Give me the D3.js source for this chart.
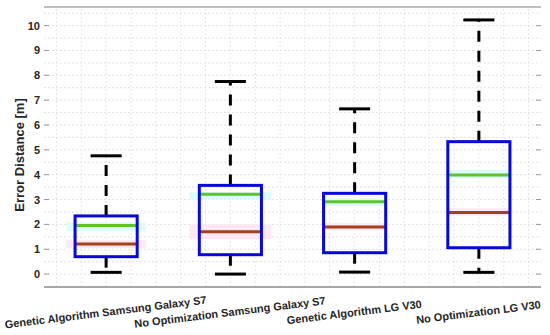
<!DOCTYPE html>
<html>
<head>
<meta charset="utf-8">
<script src="https://cdn.jsdelivr.net/npm/d3@7"></script>
<style>
  body { margin: 0; background: #fff; }
  text { font-family: "Liberation Sans", Arial, sans-serif; font-weight: bold; }
</style>
</head>
<body>
<script>
// data
var categories = ["Genetic Algorithm Samsung Galaxy S7", "No Optimization Samsung Galaxy S7",
                  "Genetic Algorithm LG V30", "No Optimization LG V30"];
var whiskerLow  = [0.07, 0.00, 0.08, 0.07];
var q1          = [0.70, 0.78, 0.86, 1.06];
var medians     = [1.21, 1.70, 1.90, 2.48];
var means       = [1.96, 3.21, 2.91, 3.99];
var q3          = [2.34, 3.57, 3.25, 5.33];
var whiskerHigh = [4.76, 7.75, 6.65, 10.23];
// shaded bands around mean and median lines
var meanBandLo  = [1.72, 3.00, 2.75, 3.85];
var meanBandHi  = [2.08, 3.30, 3.05, 4.20];
var medBandLo   = [1.05, 1.40, 1.75, 2.35];
var medBandHi   = [1.36, 2.00, 2.05, 2.65];
var yTicks = [0, 1, 2, 3, 4, 5, 6, 7, 8, 9, 10];

var width = 550, height = 335;
var svg = d3.select("body").append("svg")
  .attr("width", width)
  .attr("height", height);

var x = d3.scaleLinear().domain([0.5, 4.5]).range([44, 541]);
var y = d3.scaleLinear().domain([-0.52, 10.75]).range([287, 7]);

// grid
var grid = svg.append("g");
grid.selectAll("line.h")
  .data(d3.range(-0.5, 10.75, 0.5))
  .enter().append("line")
    .attr("x1", x(0.5)).attr("x2", x(4.5))
    .attr("y1", function(d) { return y(d); }).attr("y2", function(d) { return y(d); })
    .attr("stroke", "#e0e0e0").attr("stroke-width", 1)
    .attr("stroke-dasharray", "2,2");
grid.selectAll("line.v")
  .data(d3.range(0.6, 4.45, 0.2))
  .enter().append("line")
    .attr("y1", y(-0.52)).attr("y2", y(10.75))
    .attr("x1", function(d) { return x(d); }).attr("x2", function(d) { return x(d); })
    .attr("stroke", "#e6e6e6").attr("stroke-width", 1)
    .attr("stroke-dasharray", "2,2");

// frame
svg.append("line").attr("x1", x(0.5)).attr("x2", x(4.5)).attr("y1", y(10.75)).attr("y2", y(10.75))
  .attr("stroke", "#a8a8a8").attr("stroke-width", 1.5);
svg.append("line").attr("x1", x(0.5)).attr("x2", x(4.5)).attr("y1", y(-0.52)).attr("y2", y(-0.52))
  .attr("stroke", "#a8a8a8").attr("stroke-width", 2);

// y ticks, both sides
var yAxis = svg.append("g");
yAxis.selectAll("line.l").data(yTicks).enter().append("line")
  .attr("x1", x(0.5)).attr("x2", x(0.5) + 5)
  .attr("y1", function(d) { return y(d); }).attr("y2", function(d) { return y(d); })
  .attr("stroke", "#999");
yAxis.selectAll("line.r").data(yTicks).enter().append("line")
  .attr("x1", x(4.5) - 5).attr("x2", x(4.5))
  .attr("y1", function(d) { return y(d); }).attr("y2", function(d) { return y(d); })
  .attr("stroke", "#999");
yAxis.selectAll("text").data(yTicks).enter().append("text")
  .attr("x", x(0.5) - 4)
  .attr("y", function(d) { return y(d); })
  .attr("dy", "0.36em")
  .attr("text-anchor", "end")
  .attr("font-size", 11)
  .attr("fill", "#262626")
  .text(function(d) { return d; });

svg.append("text")
  .attr("transform", "translate(24," + 155 + ") rotate(-90)")
  .attr("text-anchor", "middle")
  .attr("font-size", 13)
  .attr("fill", "#262626")
  .text("Error Distance [m]");

// boxes
var idx = d3.range(categories.length);
var boxHalf = 0.25, capHalf = 0.125;
var bandHalf = [0.32, 0.33, 0.26, 0.26];

var g = svg.append("g").selectAll("g").data(idx).enter().append("g");

g.append("rect")
  .attr("x", function(i) { return x(i + 1 - bandHalf[i]); })
  .attr("width", function(i) { return x(i + 1 + bandHalf[i]) - x(i + 1 - bandHalf[i]); })
  .attr("y", function(i) { return y(meanBandHi[i]); })
  .attr("height", function(i) { return y(meanBandLo[i]) - y(meanBandHi[i]); })
  .attr("fill", "#defcfc");
g.append("rect")
  .attr("x", function(i) { return x(i + 1 - bandHalf[i]); })
  .attr("width", function(i) { return x(i + 1 + bandHalf[i]) - x(i + 1 - bandHalf[i]); })
  .attr("y", function(i) { return y(medBandHi[i]); })
  .attr("height", function(i) { return y(medBandLo[i]) - y(medBandHi[i]); })
  .attr("fill", "#fde8f3");

// whiskers, dashed from the box outwards
g.append("line")
  .attr("x1", function(i) { return x(i + 1); }).attr("x2", function(i) { return x(i + 1); })
  .attr("y1", function(i) { return y(q3[i]); }).attr("y2", function(i) { return y(whiskerHigh[i]); })
  .attr("stroke", "#000").attr("stroke-width", 3).attr("stroke-dasharray", "11,9");
g.append("line")
  .attr("x1", function(i) { return x(i + 1); }).attr("x2", function(i) { return x(i + 1); })
  .attr("y1", function(i) { return y(q1[i]); }).attr("y2", function(i) { return y(whiskerLow[i]); })
  .attr("stroke", "#000").attr("stroke-width", 3).attr("stroke-dasharray", "11,9");
g.append("line")
  .attr("x1", function(i) { return x(i + 1 - capHalf); }).attr("x2", function(i) { return x(i + 1 + capHalf); })
  .attr("y1", function(i) { return y(whiskerHigh[i]); }).attr("y2", function(i) { return y(whiskerHigh[i]); })
  .attr("stroke", "#000").attr("stroke-width", 3);
g.append("line")
  .attr("x1", function(i) { return x(i + 1 - capHalf); }).attr("x2", function(i) { return x(i + 1 + capHalf); })
  .attr("y1", function(i) { return y(whiskerLow[i]); }).attr("y2", function(i) { return y(whiskerLow[i]); })
  .attr("stroke", "#000").attr("stroke-width", 3);

// mean and median
g.append("line")
  .attr("x1", function(i) { return x(i + 1 - boxHalf); }).attr("x2", function(i) { return x(i + 1 + boxHalf); })
  .attr("y1", function(i) { return y(means[i]); }).attr("y2", function(i) { return y(means[i]); })
  .attr("stroke", "#5ec42a").attr("stroke-width", 3);
g.append("line")
  .attr("x1", function(i) { return x(i + 1 - boxHalf); }).attr("x2", function(i) { return x(i + 1 + boxHalf); })
  .attr("y1", function(i) { return y(medians[i]); }).attr("y2", function(i) { return y(medians[i]); })
  .attr("stroke", "#a4401c").attr("stroke-width", 3);

g.append("rect")
  .attr("x", function(i) { return x(i + 1 - boxHalf); })
  .attr("width", function(i) { return x(i + 1 + boxHalf) - x(i + 1 - boxHalf); })
  .attr("y", function(i) { return y(q3[i]); })
  .attr("height", function(i) { return y(q1[i]) - y(q3[i]); })
  .attr("fill", "none")
  .attr("stroke", "#0808d8").attr("stroke-width", 3);

// category labels
svg.append("g").selectAll("text").data(idx).enter().append("text")
  .attr("transform", function(i) { return "translate(" + x(i + 1) + ",316) rotate(-7)"; })
  .attr("text-anchor", "middle")
  .attr("font-size", 11)
  .attr("fill", "#262626")
  .text(function(i) { return categories[i]; });
</script>
</body>
</html>
